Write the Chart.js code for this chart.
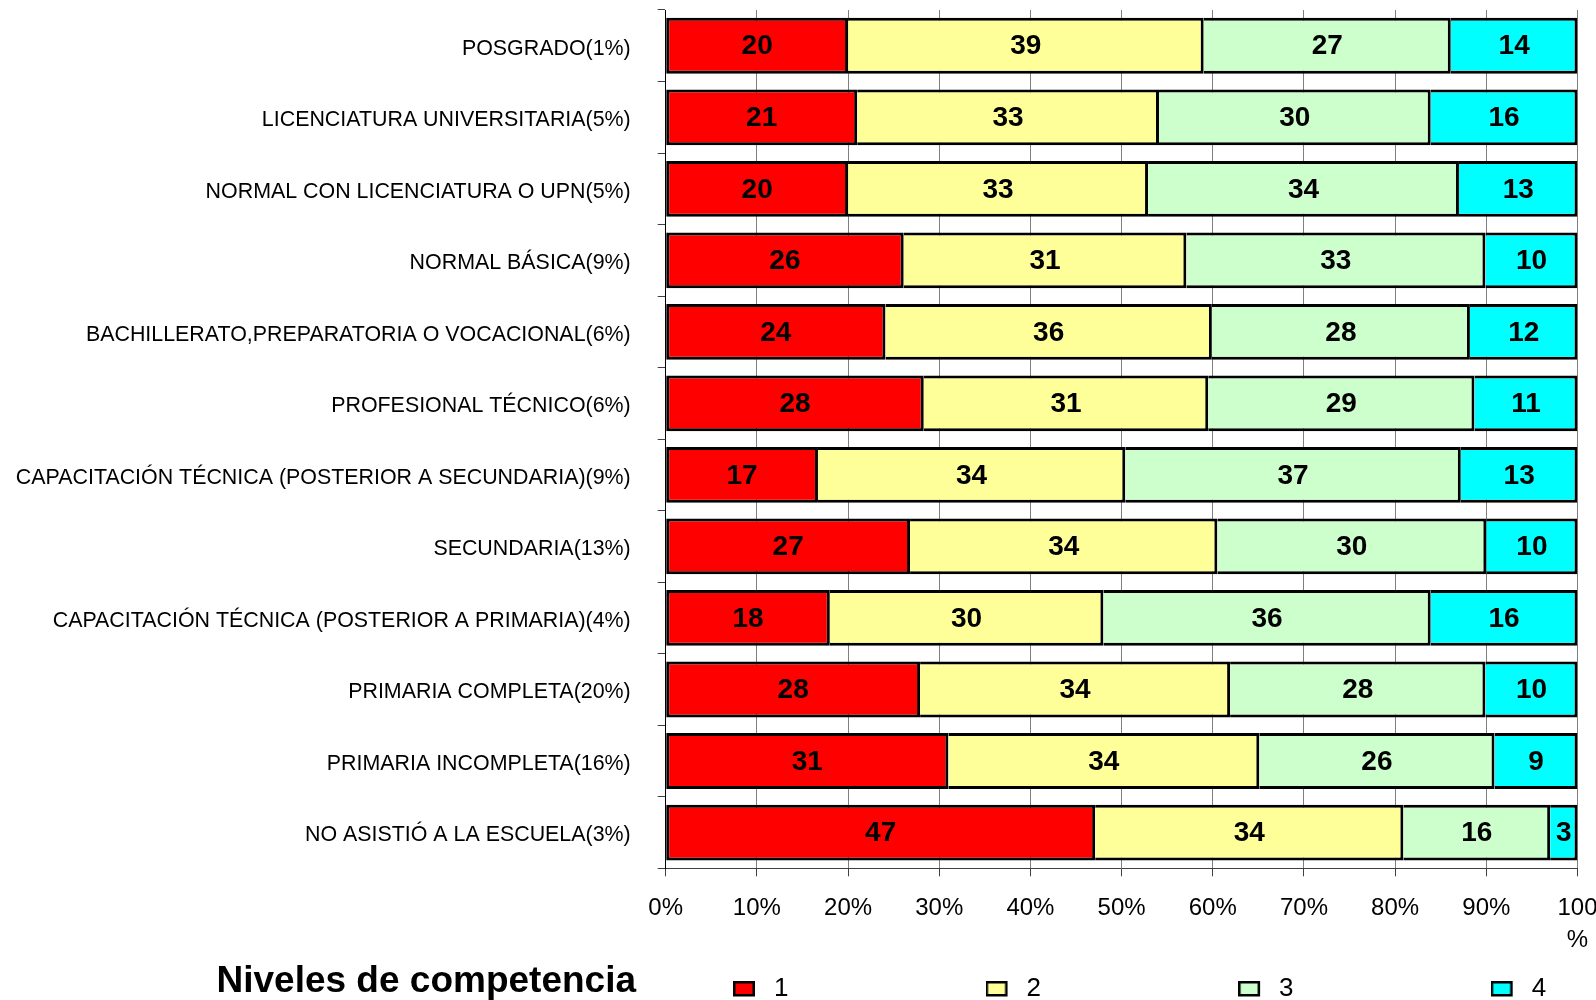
<!DOCTYPE html>
<html>
<head>
<meta charset="utf-8">
<script src="https://cdn.jsdelivr.net/npm/chart.js@4.4.1/dist/chart.umd.min.js"></script>
<style>
html,body{margin:0;padding:0;background:#fff;}
canvas{display:block;}
</style>
</head>
<body>
<canvas id="c" width="1596" height="1000"></canvas>
<script>
// ---------- DATA ----------
const categories = [
  'POSGRADO(1%)',
  'LICENCIATURA UNIVERSITARIA(5%)',
  'NORMAL CON LICENCIATURA O UPN(5%)',
  'NORMAL BÁSICA(9%)',
  'BACHILLERATO,PREPARATORIA O VOCACIONAL(6%)',
  'PROFESIONAL TÉCNICO(6%)',
  'CAPACITACIÓN TÉCNICA (POSTERIOR A SECUNDARIA)(9%)',
  'SECUNDARIA(13%)',
  'CAPACITACIÓN TÉCNICA (POSTERIOR A PRIMARIA)(4%)',
  'PRIMARIA COMPLETA(20%)',
  'PRIMARIA INCOMPLETA(16%)',
  'NO ASISTIÓ A LA ESCUELA(3%)'
];
const nivel1 = [20, 21, 20, 26.1, 24.1, 28.3, 16.7, 26.8, 18, 27.9, 31, 47.1];
const nivel2 = [39, 33.1, 32.9, 31, 35.8, 31.2, 33.7, 33.7, 30, 34, 34.1, 33.8];
const nivel3 = [27.1, 29.8, 34.1, 32.8, 28.3, 29.2, 36.8, 29.5, 35.9, 28, 25.8, 16.1];
const nivel4 = [13.9, 16.1, 13, 10.1, 11.8, 11.3, 12.8, 10, 16.1, 10.1, 9.1, 3];
const seriesNames = ['1', '2', '3', '4'];
const xTickValues = [0, 10, 20, 30, 40, 50, 60, 70, 80, 90, 100];
const chartTitle = 'Niveles de competencia';

// ---------- STYLE ----------
const FONT = "'Liberation Sans', Arial, Helvetica, sans-serif";
const COLORS = ['#FF0000', '#FFFF99', '#CCFFCC', '#00FFFF'];
const MARKER_W = 28;
const LEGEND_PAD = 197.1;

Chart.defaults.font.family = FONT;
Chart.defaults.color = '#000';

const seriesData = [nivel1, nivel2, nivel3, nivel4];
const datasets = seriesData.map((d, i) => ({
  label: seriesNames[i],
  data: d,
  backgroundColor: COLORS[i],
  borderColor: '#000',
  borderWidth: {top: 3, bottom: 3, left: i === 0 ? 3 : 0, right: 3},
  borderSkipped: false,
  barPercentage: 0.78,
  categoryPercentage: 1
}));

// legend marker: small bordered box on the left of a wider transparent cell
function legendMarker(color) {
  const c = document.createElement('canvas');
  c.width = MARKER_W;
  c.height = 16;
  const g = c.getContext('2d');
  g.fillStyle = color;
  g.fillRect(1, 1, 20, 13.5);
  g.strokeStyle = '#000';
  g.lineWidth = 2.5;
  g.strokeRect(1.25, 1.25, 19.5, 13);
  return c;
}

const segmentLabels = {
  id: 'segmentLabels',
  afterDatasetsDraw(chart) {
    const ctx = chart.ctx;
    ctx.save();
    ctx.font = 'bold 28px ' + FONT;
    ctx.fillStyle = '#000';
    ctx.textAlign = 'center';
    ctx.textBaseline = 'middle';
    chart.data.datasets.forEach((ds, di) => {
      const meta = chart.getDatasetMeta(di);
      meta.data.forEach((bar, i) => {
        const p = bar.getProps(['x', 'y', 'base'], true);
        ctx.fillText(String(Math.round(ds.data[i])), (p.x + p.base) / 2, p.y + 1);
      });
    });
    ctx.restore();
  }
};

const placeBottomBlocks = {
  id: 'placeBottomBlocks',
  afterLayout(chart) {
    const lg = chart.legend;
    if (lg) {
      lg.left = 733 - LEGEND_PAD;
      lg.right = 4000;
      lg.top = 976 - LEGEND_PAD;
      lg.bottom = 1000;
    }
    const tb = chart.titleBlock;
    if (tb) {
      tb.left = 216.5;
      tb.top = 981;
    }
  }
};

new Chart(document.getElementById('c'), {
  type: 'bar',
  data: {labels: categories, datasets: datasets},
  plugins: [segmentLabels, placeBottomBlocks],
  options: {
    indexAxis: 'y',
    responsive: false,
    animation: false,
    devicePixelRatio: 1,
    layout: {padding: {top: 10, right: 18.5, bottom: 0, left: 0}},
    scales: {
      x: {
        stacked: true,
        min: 0,
        max: 100,
        afterBuildTicks(scale) { scale.ticks = xTickValues.map(v => ({value: v})); },
        afterFit(scale) { scale.height = 129.7; scale.paddingLeft = 0; scale.paddingRight = 0; },
        grid: {color: '#808080', lineWidth: 1, drawTicks: true, tickLength: 8, tickColor: '#404040'},
        border: {color: '#404040', width: 1},
        ticks: {
          autoSkip: false,
          maxRotation: 0,
          padding: 15.7,
          color: '#000',
          font: {size: 24, lineHeight: 1.333},
          callback(v) { return v === 100 ? ['100', '%'] : v + '%'; }
        }
      },
      y: {
        stacked: true,
        afterFit(scale) { scale.width = 665.7; scale.paddingTop = 0; scale.paddingBottom = 0; },
        grid: {drawOnChartArea: false, drawTicks: true, tickLength: 8, color: '#404040', offset: true},
        border: {color: '#000', width: 1},
        ticks: {autoSkip: false, padding: 27, labelOffset: 3, color: '#000', font: {size: 21.4}}
      }
    },
    plugins: {
      tooltip: {enabled: false},
      title: {
        display: true,
        text: chartTitle,
        position: 'bottom',
        align: 'start',
        color: '#000',
        padding: 0,
        font: {size: 37, weight: 'bold', lineHeight: '1px'}
      },
      legend: {
        display: true,
        position: 'bottom',
        align: 'start',
        maxHeight: 1,
        labels: {
          usePointStyle: true,
          pointStyleWidth: MARKER_W,
          boxHeight: 16,
          padding: LEGEND_PAD,
          color: '#000',
          font: {size: 26},
          generateLabels(chart) {
            const items = Chart.defaults.plugins.legend.labels.generateLabels(chart);
            items.forEach((it, i) => {
              it.pointStyle = legendMarker(chart.data.datasets[i].backgroundColor);
              it.lineWidth = 0;
            });
            return items;
          }
        }
      }
    }
  }
});
</script>
</body>
</html>
